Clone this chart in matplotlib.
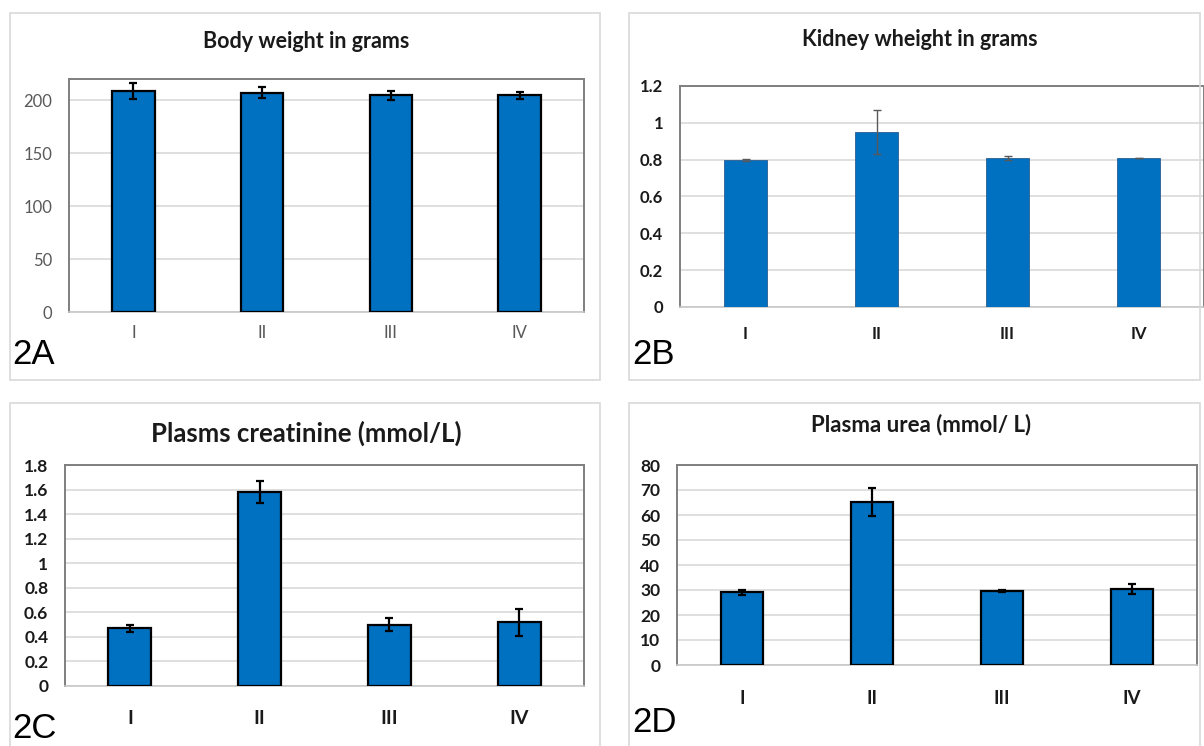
import matplotlib
matplotlib.use("Agg")
import matplotlib.pyplot as plt
from matplotlib.patches import Rectangle

grupos = ["I", "II", "III", "IV"]

peso_corporal = [209, 207, 204.5, 204.5]
peso_corporal_err = [7.5, 5, 4, 3]

peso_rinon = [0.80, 0.95, 0.81, 0.81]
peso_rinon_err = [0.005, 0.12, 0.01, 0.0]

creatinina = [0.47, 1.58, 0.50, 0.52]
creatinina_err = [0.03, 0.09, 0.05, 0.11]

urea = [29.2, 65.3, 29.6, 30.3]
urea_err = [1.0, 5.6, 0.5, 2.0]

W, H = 1204, 746
AZUL = "#0070C0"

fig = plt.figure(figsize=(W / 100, H / 100), dpi=100)
fig.patch.set_facecolor("white")


def caja(x0, y0, x1, y1):
    # marco gris claro alrededor de cada panel
    r = Rectangle((x0 / W, 1 - y1 / H), (x1 - x0) / W, (y1 - y0) / H,
                  transform=fig.transFigure, fill=False, edgecolor="#d9d9d9",
                  linewidth=1.2, zorder=0)
    fig.patches.append(r)


def panel(x0, y0, x1, y1, valores, errores, ymax, paso, titulo, tx, ty, tsize,
          letra, lx, ly, ysize, xsize, negrita, borde, err_color, err_lw, xlab_pad):
    ax = fig.add_axes([x0 / W, 1 - y1 / H, (x1 - x0) / W, (y1 - y0) / H])
    ax.bar(grupos, valores, width=0.33, color=AZUL,
           edgecolor="black" if borde else "#2a5d8f",
           linewidth=1.6 if borde else 0.6, zorder=3)
    ax.errorbar(grupos, valores, yerr=errores, fmt="none", ecolor=err_color,
                elinewidth=err_lw, capsize=3, capthick=err_lw, zorder=4)
    ax.set_xlim(-0.5, 3.5)
    ax.set_ylim(0, ymax)
    ticks = []
    v = 0
    while v <= ymax + 1e-9:
        ticks.append(round(v, 2))
        v += paso
    ax.set_yticks(ticks)
    ax.set_yticklabels([("%g" % t) for t in ticks])
    ax.yaxis.grid(True, color="#d9d9d9", linewidth=1.2, zorder=0)
    ax.set_axisbelow(True)
    for s in ["left", "top", "right"]:
        ax.spines[s].set_color("#7f7f7f")
        ax.spines[s].set_linewidth(1.4)
    ax.spines["bottom"].set_color("#c8c8c8")
    ax.spines["bottom"].set_linewidth(1.2)
    peso = "bold" if negrita else "normal"
    color_t = "#1a1a1a" if negrita else "#595959"
    ax.tick_params(axis="both", length=0, labelcolor=color_t)
    ax.tick_params(axis="y", pad=12, labelsize=ysize)
    ax.tick_params(axis="x", pad=xlab_pad, labelsize=xsize)
    for t in ax.get_xticklabels() + ax.get_yticklabels():
        t.set_fontweight(peso)
        t.set_fontfamily("Lato")
    fig.text(tx / W, 1 - ty / H, titulo, ha="center", va="center",
             fontsize=tsize, fontweight="bold", family="Lato", color="#1a1a1a")
    fig.text(lx / W, 1 - ly / H, letra, ha="left", va="center", fontsize=25,
             family="Liberation Sans", color="black")
    return ax


caja(10, 13, 600, 380)
caja(629, 13, 1200, 380)
caja(10, 403, 600, 760)
caja(629, 403, 1200, 760)

panel(69, 79, 584, 312, peso_corporal, peso_corporal_err, 220, 50,
      "Body weight in grams", 306, 42, 15.5, "2A", 12, 355, 12, 12, False, True,
      "black", 1.6, 9)
panel(680, 86, 1204, 307, peso_rinon, peso_rinon_err, 1.2, 0.2,
      "Kidney wheight in grams", 920, 40, 15.5, "2B", 632, 355, 12, 12, True, False,
      "#595959", 1.0, 14)
panel(65, 465, 584, 686, creatinina, creatinina_err, 1.8, 0.2,
      "Plasms creatinine (mmol/L)", 306, 433, 18.5, "2C", 12, 728, 12.5, 14, True, True,
      "black", 1.6, 17)
panel(677, 465, 1197, 665, urea, urea_err, 80, 10,
      "Plasma urea (mmol/ L)", 921, 425, 16, "2D", 632, 722, 12.5, 13.5, True, True,
      "black", 1.6, 18)

fig.savefig("out.png", dpi=100)
